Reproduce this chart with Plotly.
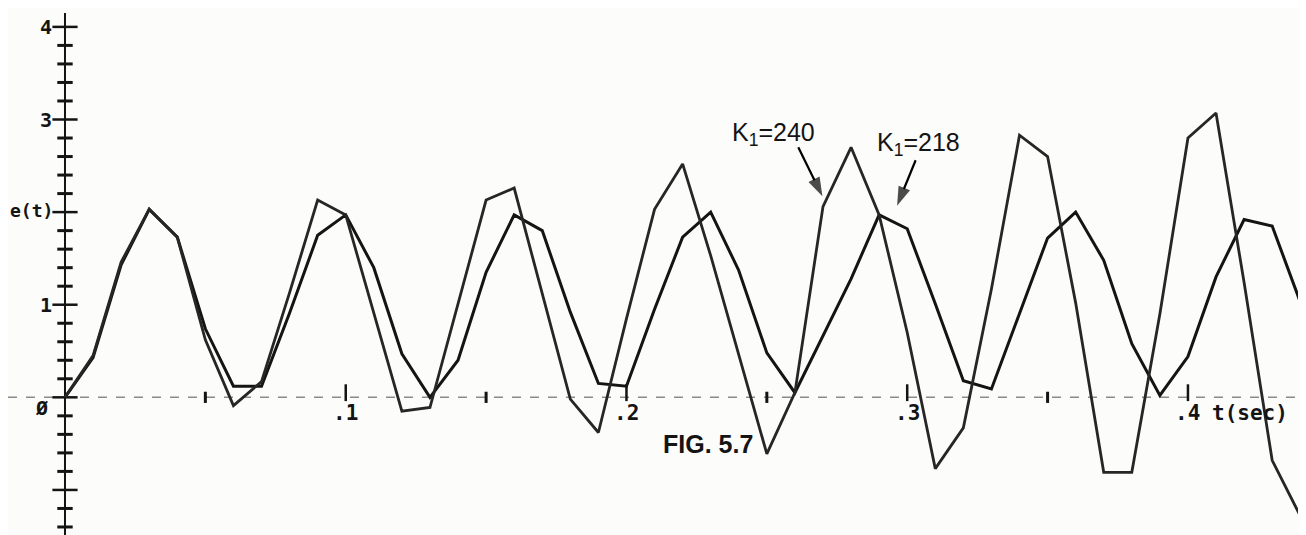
import plotly.graph_objects as go

# ---------------- data ----------------
t_sec = [0.00, 0.01, 0.02, 0.03, 0.04, 0.05, 0.06, 0.07, 0.08, 0.09,
         0.10, 0.11, 0.12, 0.13, 0.14, 0.15, 0.16, 0.17, 0.18, 0.19,
         0.20, 0.21, 0.22, 0.23, 0.24, 0.25, 0.26, 0.27, 0.28, 0.29,
         0.30, 0.31, 0.32, 0.33, 0.34, 0.35, 0.36, 0.37, 0.38, 0.39,
         0.40, 0.41, 0.42, 0.43, 0.44]

e_k240 = [0.00, 0.45, 1.46, 2.03, 1.73, 0.62, -0.09, 0.17, 1.13, 2.13,
          1.97, 0.92, -0.15, -0.11, 1.00, 2.13, 2.26, 1.13, -0.02, -0.38,
          0.85, 2.03, 2.52, 1.53, 0.45, -0.61, 0.05, 2.06, 2.70, 1.97,
          0.70, -0.77, -0.33, 1.17, 2.83, 2.60, 1.02, -0.81, -0.81, 0.90,
          2.80, 3.07, 1.24, -0.68, -1.28]

e_k218 = [0.00, 0.43, 1.43, 2.03, 1.73, 0.74, 0.12, 0.12, 0.91, 1.75,
          1.97, 1.40, 0.47, 0.00, 0.40, 1.35, 1.97, 1.80, 0.92, 0.15,
          0.12, 0.95, 1.73, 2.00, 1.37, 0.48, 0.05, 0.66, 1.28, 1.97,
          1.82, 1.01, 0.18, 0.09, 0.90, 1.72, 2.00, 1.48, 0.58, 0.02,
          0.44, 1.30, 1.92, 1.85, 1.03]

y_major_ticks = [-1, 0, 1, 2, 3, 4]
y_minor_ticks = [-1.4, -1.2, -0.8, -0.6, -0.4, -0.2, 0.2, 0.4, 0.6, 0.8,
                 1.2, 1.4, 1.6, 1.8, 2.2, 2.4, 2.6, 2.8, 3.2, 3.4, 3.6, 3.8]
y_label_values = [4, 3, 1]
y_label_texts = ["4", "3", "1"]

x_major_ticks = [0.1, 0.2, 0.3, 0.4]
x_minor_ticks = [0.05, 0.15, 0.25, 0.35]
x_label_texts = [".1", ".2", ".3", ".4"]

# arrow from label to curve: (tail, tip)
arrow_k240_t = [0.2612, 0.2698]
arrow_k240_e = [2.70, 2.17]
arrow_k218_t = [0.3030, 0.2964]
arrow_k218_e = [2.56, 2.07]

INK = "#141414"
BG = "#fcfcfa"
MONO = "DejaVu Sans Mono"
SANS = "Liberation Sans"

fig = go.Figure()

# horizontal (time) axis: faint dashed line
fig.add_trace(go.Scatter(x=[-0.0203, 0.4395], y=[0, 0], mode="lines",
                         line=dict(color="#8a8a8a", width=1.5, dash="dash"),
                         hoverinfo="skip"))
# x ticks
fig.add_trace(go.Scatter(x=x_major_ticks, y=[0.05] * len(x_major_ticks), mode="markers",
                         marker=dict(symbol="line-ns", size=12,
                                     line=dict(color=INK, width=2.5)),
                         hoverinfo="skip"))
fig.add_trace(go.Scatter(x=x_minor_ticks, y=[0] * len(x_minor_ticks), mode="markers",
                         marker=dict(symbol="line-ns", size=8,
                                     line=dict(color=INK, width=3)),
                         hoverinfo="skip"))

# vertical axis line
fig.add_trace(go.Scatter(x=[0, 0], y=[-1.6, 4.15], mode="lines",
                         line=dict(color=INK, width=2), hoverinfo="skip"))
fig.add_trace(go.Scatter(x=[0] * len(y_major_ticks), y=y_major_ticks, mode="markers",
                         marker=dict(symbol="line-ew", size=18,
                                     line=dict(color=INK, width=2.5)),
                         hoverinfo="skip"))
fig.add_trace(go.Scatter(x=[0] * len(y_minor_ticks), y=y_minor_ticks, mode="markers",
                         marker=dict(symbol="line-ew", size=11,
                                     line=dict(color=INK, width=3)),
                         hoverinfo="skip"))

# the two responses
fig.add_trace(go.Scatter(x=t_sec, y=e_k218, mode="lines", name="K1=218",
                         line=dict(color=INK, width=3)))
fig.add_trace(go.Scatter(x=t_sec, y=e_k240, mode="lines", name="K1=240",
                         line=dict(color="#262626", width=2.8)))

# pointer arrows
for at, ae in [(arrow_k240_t, arrow_k240_e), (arrow_k218_t, arrow_k218_e)]:
    fig.add_trace(go.Scatter(x=at, y=ae, mode="lines+markers",
                             line=dict(color="#000000", width=2.2),
                             marker=dict(symbol=["circle", "arrow"], size=[0, 20],
                                         angleref="previous", color="#000000",
                                         line=dict(width=0)),
                             hoverinfo="skip"))

ann = []
# y labels
for v, s in zip(y_label_values, y_label_texts):
    ann.append(dict(x=-0.0068, y=v, text="<b>%s</b>" % s, showarrow=False,
                    font=dict(family=MONO, size=20, color=INK),
                    xref="x", yref="y"))
ann.append(dict(x=-0.0082, y=-0.11, text="<b>Ø</b>", showarrow=False,
                font=dict(family=MONO, size=20, color=INK), xref="x", yref="y"))
ann.append(dict(x=-0.0120, y=2.02, text="<b>e(t)</b>", showarrow=False,
                font=dict(family=MONO, size=18, color=INK), xref="x", yref="y"))
# x labels
for v, s in zip(x_major_ticks, x_label_texts):
    ann.append(dict(x=v, y=-0.17, text="<b>%s</b>" % s, showarrow=False,
                    font=dict(family=MONO, size=21, color=INK), xref="x", yref="y"))
ann.append(dict(x=0.4222, y=-0.17, text="<b>t(sec)</b>", showarrow=False,
                font=dict(family=MONO, size=21, color=INK), xref="x", yref="y"))

# curve labels
ann.append(dict(x=0.2524, y=2.84, text="K<sub>1</sub>=240", showarrow=False,
                font=dict(family=SANS, size=25, color=INK), xref="x", yref="y"))
ann.append(dict(x=0.3040, y=2.74, text="K<sub>1</sub>=218", showarrow=False,
                font=dict(family=SANS, size=25, color=INK), xref="x", yref="y"))
ann.append(dict(x=0.2292, y=-0.50, text="<b>FIG. 5.7</b>", showarrow=False,
                font=dict(family=SANS, size=25, color=INK), xref="x", yref="y"))

fig.update_layout(
    width=1306, height=535,
    margin=dict(l=0, r=0, t=0, b=0),
    paper_bgcolor=BG, plot_bgcolor=BG,
    showlegend=False,
    xaxis=dict(range=[-0.0203, 0.4449], visible=False, fixedrange=True),
    yaxis=dict(range=[-1.573, 4.204], visible=False, fixedrange=True),
    annotations=ann,
)

fig.write_html("out.html")
